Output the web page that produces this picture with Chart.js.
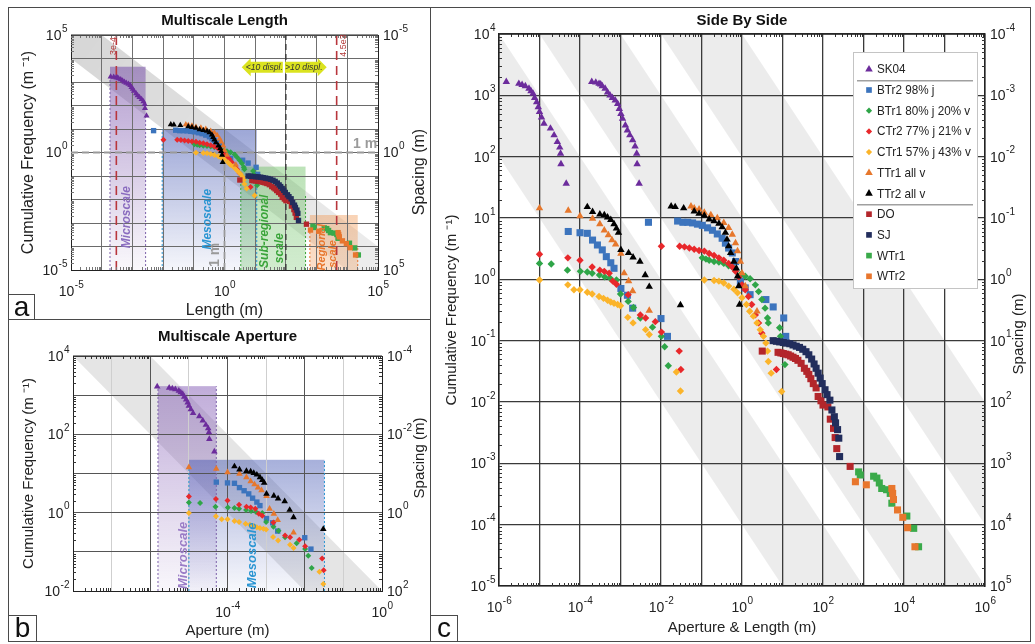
<!DOCTYPE html>
<html>
<head>
<meta charset="utf-8">
<title>Multiscale fracture frequency</title>
<script src="https://cdn.jsdelivr.net/npm/chart.js@4.4.1/dist/chart.umd.min.js"></script>
<style>
  html, body { margin: 0; padding: 0; background: #fff; }
  #figure { position: relative; width: 1035px; height: 644px; overflow: hidden; font-family: Arial, "Liberation Sans", sans-serif; }
  #figure canvas { position: absolute; }
  .rule { position: absolute; background: #4a4a4a; }
  .tag { position: absolute; box-sizing: border-box; border: 1px solid #4a4a4a; background: #fff; font-size: 28px; line-height: 24px; text-align: center; color: #111; }
</style>
</head>
<body>
<div id="figure">
  <canvas id="chartA" width="430" height="320" style="left:0;top:0"></canvas>
  <canvas id="chartB" width="430" height="324" style="left:0;top:320px"></canvas>
  <canvas id="chartC" width="605" height="644" style="left:430px;top:0"></canvas>

  <div class="rule" style="left:8px;top:7px;width:1023px;height:1px"></div>
  <div class="rule" style="left:8px;top:641px;width:1023px;height:1px"></div>
  <div class="rule" style="left:8px;top:7px;width:1px;height:635px"></div>
  <div class="rule" style="left:1030px;top:7px;width:1px;height:635px"></div>
  <div class="rule" style="left:430px;top:7px;width:1px;height:635px"></div>
  <div class="rule" style="left:8px;top:319px;width:422px;height:1px"></div>

  <div class="tag" style="left:8px;top:294px;width:27px;height:26px">a</div>
  <div class="tag" style="left:8px;top:615px;width:29px;height:27px">b</div>
  <div class="tag" style="left:430px;top:615px;width:28px;height:27px">c</div>
</div>

<script>
const FONT = 'Arial, "Liberation Sans", sans-serif';
Chart.defaults.font.family = FONT;
Chart.defaults.color = '#222';

// ---- values, stored as log10 ----
// x = aperture or length (m), y = cumulative frequency (1/m)
const sk04ApX = [-5.82, -5.51, -5.43, -5.35, -5.26, -5.21, -5.16, -5.12, -5.07, -5.03, -5.00, -4.95, -4.89, -4.73, -4.64, -4.56, -4.50, -4.48, -4.47, -4.34];
const sk04ApY = [3.22, 3.19, 3.17, 3.15, 3.11, 3.07, 3.03, 2.96, 2.89, 2.81, 2.73, 2.64, 2.54, 2.46, 2.35, 2.24, 2.15, 2.05, 1.88, 1.56];
const sk04LenX = [-3.71, -3.61, -3.53, -3.49, -3.45, -3.38, -3.32, -3.26, -3.20, -3.13, -3.07, -3.03, -2.99, -2.95, -2.88, -2.83, -2.77, -2.70, -2.64, -2.60, -2.59, -2.54];
const sk04LenY = [3.22, 3.21, 3.19, 3.18, 3.15, 3.11, 3.05, 3.00, 2.96, 2.92, 2.86, 2.78, 2.70, 2.62, 2.51, 2.43, 2.35, 2.27, 2.17, 2.05, 1.88, 1.56];

const btr2ApX = [-4.29, -4.00, -3.82, -3.69, -3.57, -3.45, -3.35, -3.24, -3.16, -2.99, -2.83, -2.70, -2.00, -1.84];
const btr2ApY = [0.78, 0.76, 0.75, 0.64, 0.56, 0.48, 0.37, 0.27, 0.18, -0.15, -0.26, -0.47, -0.64, -0.93];
const btr2LenX = [-2.31, -1.59, -1.46, -1.34, -1.22, -1.10, -0.98, -0.85, -0.73, -0.61, -0.49, -0.41, -0.33, -0.24, -0.16, -0.04, 0.08, 0.20, 0.59, 0.77, 1.03, 1.08];
const btr2LenY = [0.93, 0.95, 0.93, 0.93, 0.92, 0.90, 0.88, 0.84, 0.80, 0.74, 0.67, 0.59, 0.51, 0.43, 0.29, -0.03, -0.14, -0.25, -0.33, -0.45, -0.63, -0.93];

const btr1ApX = [-5.00, -4.71, -4.31, -3.99, -3.82, -3.70, -3.52, -3.39, -3.26, -3.10, -3.00, -2.81, -2.68, -2.51, -2.21, -1.99, -1.91, -1.82];
const btr1ApY = [0.26, 0.25, 0.15, 0.13, 0.12, 0.10, 0.07, 0.04, 0.02, -0.01, -0.24, -0.36, -0.46, -0.63, -0.78, -0.93, -1.10, -1.41];
const btr1LenX = [-0.98, -0.89, -0.81, -0.69, -0.57, -0.45, -0.33, -0.20, -0.04, 0.08, 0.20, 0.33, 0.41, 0.49, 0.57, 0.63, 0.65, 0.93, 0.95, 1.06];
const btr1LenY = [0.35, 0.33, 0.31, 0.29, 0.28, 0.26, 0.22, 0.18, 0.08, 0.05, 0.01, -0.09, -0.20, -0.33, -0.47, -0.63, -0.71, -0.79, -0.93, -1.39];

const ctr2ApX = [-5.00, -4.30, -4.00, -3.70, -3.51, -3.40, -3.28, -3.19, -3.10, -2.81, -2.51, -2.38, -2.14, -1.99, -1.55, -1.51];
const ctr2ApY = [0.41, 0.35, 0.31, 0.20, 0.15, 0.13, 0.10, -0.03, -0.08, -0.25, -0.58, -0.63, -0.69, -0.86, -1.17, -1.47];
const ctr2LenX = [-1.99, -1.54, -1.42, -1.30, -1.18, -1.06, -0.93, -0.81, -0.69, -0.57, -0.45, -0.33, -0.24, -0.16, -0.08, 0.00, 0.08, 0.16, 0.24, 0.33, 0.41, 0.49, 0.85];
const ctr2LenY = [0.54, 0.54, 0.53, 0.51, 0.49, 0.47, 0.46, 0.42, 0.39, 0.35, 0.31, 0.26, 0.20, 0.13, 0.04, -0.09, -0.17, -0.28, -0.41, -0.58, -0.71, -0.88, -1.47];

const ctr1ApX = [-5.00, -4.30, -4.15, -4.00, -3.82, -3.70, -3.53, -3.42, -3.32, -3.24, -3.16, -3.07, -3.00, -2.82, -2.69, -2.38, -2.29, -1.62, -1.52];
const ctr1ApY = [-0.01, -0.09, -0.17, -0.17, -0.21, -0.24, -0.28, -0.31, -0.34, -0.37, -0.39, -0.41, -0.43, -0.62, -0.71, -0.82, -0.90, -1.51, -1.82];
const ctr1LenX = [-0.93, -0.69, -0.57, -0.45, -0.33, -0.20, -0.11, 0.00, 0.11, 0.19, 0.28, 0.37, 0.45, 0.53, 0.59, 0.63, 0.65, 0.72, 0.98];
const ctr1LenY = [-0.01, -0.02, -0.03, -0.06, -0.11, -0.16, -0.22, -0.30, -0.41, -0.52, -0.60, -0.71, -0.82, -0.93, -1.04, -1.17, -1.34, -1.53, -1.83];

const ttr1ApX = [-5.00, -4.29, -4.00, -3.69, -3.51, -3.40, -3.30, -3.21, -3.12, -2.99, -2.91, -2.80, -2.70, -2.29];
const ttr1ApY = [1.16, 1.12, 1.03, 0.99, 0.90, 0.80, 0.72, 0.64, 0.57, 0.42, 0.10, -0.03, -0.19, -0.51];
const ttr1LenX = [-1.26, -1.18, -1.06, -0.93, -0.77, -0.61, -0.45, -0.33, -0.24, -0.16, -0.11, -0.04, 0.00, 0.08, 0.37];
const ttr1LenY = [1.19, 1.16, 1.14, 1.09, 1.05, 1.00, 0.92, 0.84, 0.73, 0.59, 0.46, 0.29, 0.10, -0.11, -0.52];

const ttr2ApX = [-3.82, -3.69, -3.51, -3.40, -3.32, -3.24, -3.16, -3.10, -3.05, -2.99, -2.80, -2.69, -2.52, -2.39, -2.29, -1.52];
const ttr2ApY = [1.18, 1.10, 1.06, 1.05, 1.01, 0.97, 0.90, 0.83, 0.76, 0.48, 0.43, 0.36, 0.29, 0.07, -0.12, -0.42];
const ttr2LenX = [-1.75, -1.65, -1.44, -1.18, -1.06, -0.93, -0.81, -0.69, -0.57, -0.49, -0.41, -0.37, -0.33, -0.28, -0.20, -0.14, -0.11, -0.08, -0.06];
const ttr2LenY = [1.19, 1.18, 1.16, 1.11, 1.07, 1.04, 0.98, 0.95, 0.91, 0.85, 0.76, 0.65, 0.54, 0.43, 0.29, 0.18, 0.05, -0.11, -0.41];

const doLenX = [0.50, 0.89, 0.96, 1.02, 1.08, 1.14, 1.20, 1.26, 1.32, 1.38, 1.46, 1.54, 1.60, 1.65, 1.70, 1.76, 1.83, 1.88, 1.95, 2.00, 2.12, 2.18, 2.26, 2.30, 2.34, 2.67];
const doLenY = [-1.17, -1.19, -1.20, -1.21, -1.22, -1.23, -1.25, -1.27, -1.29, -1.32, -1.37, -1.45, -1.50, -1.55, -1.62, -1.70, -1.77, -1.91, -1.98, -2.05, -2.08, -2.28, -2.43, -2.58, -2.76, -3.05];
const sjLenX = [0.77, 0.85, 0.93, 1.02, 1.10, 1.18, 1.26, 1.34, 1.42, 1.50, 1.58, 1.65, 1.72, 1.78, 1.83, 1.88, 1.93, 1.98, 2.05, 2.10, 2.17, 2.22, 2.28, 2.31, 2.36, 2.39, 2.41];
const sjLenY = [-1.00, -1.01, -1.02, -1.03, -1.04, -1.05, -1.07, -1.09, -1.11, -1.14, -1.18, -1.23, -1.30, -1.38, -1.45, -1.53, -1.61, -1.70, -1.80, -1.88, -1.97, -2.13, -2.24, -2.34, -2.45, -2.59, -2.89];
const wtr1LenX = [2.88, 2.92, 3.25, 3.33, 3.39, 3.45, 3.57, 3.66, 3.70, 4.07, 4.24, 4.36];
const wtr1LenY = [-3.14, -3.19, -3.21, -3.24, -3.32, -3.41, -3.43, -3.49, -3.65, -3.86, -4.06, -4.36];
const wtr2LenX = [2.80, 3.07, 3.70, 3.72, 3.74, 3.84, 3.97, 4.09, 4.27];
const wtr2LenY = [-3.30, -3.35, -3.41, -3.49, -3.59, -3.76, -3.88, -4.05, -4.36];

// ---- annotation values (log10 units) ----
// grey bands: frequency * size between 10^c1 and 10^c2
const bandsA = [[-1, 1]];
const bandsB = [[-4, -2]];
const bandsC = [[-4, -2], [-1, 1], [2, 4]];
// scale boxes: [x from, x to, y top]
const boxesA = [[-3.73, -2.57, 3.65], [-2.03, 1.05, 0.99], [0.53, 2.64, -0.60], [2.78, 4.34, -2.66]];
const boxesB = [[-5.80, -4.29, 3.23], [-5.00, -1.49, 1.35]];
// dotted box edges: [x, y top]
const edgesA = [[-3.73, 3.20], [-2.57, 1.60], [-2.03, 0.99], [1.05, -0.55], [0.53, -1.10], [2.64, -1.85], [2.78, -3.20], [4.34, -4.00]];
const edgesB = [[-5.80, 3.23], [-4.29, 3.23], [-5.00, 1.20], [-1.49, 1.35]];
const cutoffsA = [3e-4, 4.5e3];   // resolution limits (m)
const displSplitA = 1e2;           // <10 / >10 displacement split (m)
const oneMetre = 1;

const series = [
  {label: 'SK04', color: '#6c2c9c', shape: 'triangle', ap: [sk04ApX, sk04ApY], len: [sk04LenX, sk04LenY]},
  {label: 'BTr2 98% j', color: '#3c74bd', shape: 'rect', ap: [btr2ApX, btr2ApY], len: [btr2LenX, btr2LenY]},
  {label: 'BTr1 80% j 20% v', color: '#2fa548', shape: 'rectRot', ap: [btr1ApX, btr1ApY], len: [btr1LenX, btr1LenY]},
  {label: 'CTr2 77% j 21% v', color: '#e8282b', shape: 'rectRot', ap: [ctr2ApX, ctr2ApY], len: [ctr2LenX, ctr2LenY]},
  {label: 'CTr1 57% j 43% v', color: '#fbb42a', shape: 'rectRot', ap: [ctr1ApX, ctr1ApY], len: [ctr1LenX, ctr1LenY]},
  {label: 'TTr1 all v', color: '#e6772c', shape: 'triangle', ap: [ttr1ApX, ttr1ApY], len: [ttr1LenX, ttr1LenY]},
  {label: 'TTr2 all v', color: '#000000', shape: 'triangle', ap: [ttr2ApX, ttr2ApY], len: [ttr2LenX, ttr2LenY]},
  {label: 'DO', color: '#b3262b', shape: 'rect', len: [doLenX, doLenY]},
  {label: 'SJ', color: '#222d5c', shape: 'rect', len: [sjLenX, sjLenY]},
  {label: 'WTr1', color: '#3aaa4a', shape: 'rect', len: [wtr1LenX, wtr1LenY]},
  {label: 'WTr2', color: '#e8762d', shape: 'rect', len: [wtr2LenX, wtr2LenY]}
];
const legendOrder = [0, 'sep', 1, 2, 3, 4, 5, 6, 'sep', 7, 8, 9, 10];

const dec = e => Number('1e' + e);
const decadeTicks = (lo, hi) => { const t = []; for (let e = lo; e <= hi; e++) t.push({value: dec(e)}); return t; };
const range = (lo, hi) => { const t = []; for (let e = lo; e <= hi; e++) t.push(e); return t; };

const purple = '#7e62aa', blue = '#2a95d2', green = '#3aa43a', orange = '#e8772e';

const panels = {
  chartA: {
    x: [-5, 5], y: [-5, 5], area: {top: 35, left: 71, right: 52, bottom: 50},
    sources: ['len'], radius: {triangle: 3.5, rect: 3.8, rectRot: 3.0},
    title: 'Multiscale Length', titleY: 21, axisFont: 16,
    xTitle: 'Length (m)', xTitlePad: 0, yTitlePad: 19, rightTitle: [420, 172],
    gridX: () => '#707070', gridY: () => '#6a6a6a', gridWidth: 1, frame: 1,
    bands: bandsA, bandColor: ['rgba(0,0,0,0.16)', 'rgba(0,0,0,0.07)'],
    boxes: boxesA,
    boxColors: [['rgba(120,80,170,0.55)', 'rgba(120,80,170,0.04)'], ['rgba(60,80,175,0.50)', 'rgba(60,80,175,0.05)'],
                ['rgba(90,185,80,0.40)', 'rgba(90,185,80,0.28)'], ['rgba(240,150,80,0.42)', 'rgba(240,150,80,0.30)']],
    edges: edgesA, edgeColors: [purple, purple, blue, blue, green, green, orange, orange],
    vLines: [
      {x: Math.log10(cutoffsA[0]), color: '#b8363c', dash: [9, 6], width: 1.6},
      {x: Math.log10(cutoffsA[1]), color: '#b8363c', dash: [9, 6], width: 1.6},
      {x: Math.log10(displSplitA), color: '#333', dash: [6, 4], width: 1.3},
      {x: Math.log10(oneMetre), to: Math.log10(oneMetre), color: '#9a9a9a', dash: [7, 4], width: 1.8}
    ],
    hLines: [{y: Math.log10(oneMetre), color: '#9a9a9a', dash: [7, 4], width: 1.8}],
    texts: [
      {t: 'Microscale', x: -3.18, y: -2.75, rot: true, color: '#8a6cbf', font: 'italic bold 12px'},
      {t: 'Mesoscale', x: -0.54, y: -2.84, rot: true, color: blue, font: 'italic bold 12px'},
      {t: '1 m', x: -0.30, y: -4.36, rot: true, color: '#9a9a9a', font: 'bold 14px'},
      {t: 'Sub-regional', x: 1.32, y: -3.35, rot: true, color: green, font: 'italic bold 12px'},
      {t: 'scale', x: 1.81, y: -4.07, rot: true, color: green, font: 'italic bold 12px'},
      {t: 'Regional', x: 3.18, y: -4.03, rot: true, color: orange, font: 'italic bold 11px'},
      {t: 'scale', x: 3.53, y: -4.32, rot: true, color: orange, font: 'italic bold 11px'},
      {t: '1 m', x: 4.97, y: 0.36, color: '#9a9a9a', font: 'bold 14px', align: 'right'},
      {t: '3e-4', x: -3.60, y: 4.53, rot: true, color: '#b23a3a', font: '9px'},
      {t: '4.5e3', x: 3.88, y: 4.55, rot: true, color: '#b23a3a', font: '9px'}
    ],
    arrows: [{head: 0.56, tail: 1.90, y: 3.63, t: '<10 displ.'}, {head: 3.33, tail: 1.97, y: 3.63, t: '>10 displ.'}],
    xLabels: [-5, 0, 5], yLabels: [5, 0, -5], y2Labels: [-5, 0, 5], minorColor: '#777'
  },
  chartB: {
    x: [-8, 0], y: [-2, 4], area: {top: 36, left: 73, right: 48, bottom: 53},
    sources: ['ap'], radius: {triangle: 3.8, rect: 3.8, rectRot: 3.0},
    title: 'Multiscale Aperture', titleY: 17, axisFont: 15,
    xTitle: 'Aperture (m)', xTitlePad: 4, yTitlePad: 20, rightTitle: [420, 138],
    gridX: v => (Math.round(Math.log10(v)) % 2 === 0 ? '#555' : '#cfcfcf'), gridY: () => '#555', gridWidth: 1, frame: 1,
    bands: bandsB, bandColor: 'rgba(0,0,0,0.10)',
    boxes: boxesB,
    boxColors: [['rgba(130,90,180,0.50)', 'rgba(130,90,180,0.05)'], ['rgba(60,80,175,0.45)', 'rgba(60,80,175,0.04)']],
    edges: edgesB, edgeColors: [purple, purple, blue, blue],
    vLines: [], hLines: [],
    texts: [
      {t: 'Microscale', x: -5.15, y: -1.09, rot: true, color: '#9a7cc6', font: 'italic bold 13px'},
      {t: 'Mesoscale', x: -3.35, y: -1.09, rot: true, color: blue, font: 'italic bold 13px'}
    ],
    arrows: [],
    xLabels: [-4, 0], yLabels: [4, 2, 0, -2], y2Labels: [-4, -2, 0, 2], minorColor: '#333'
  },
  chartC: {
    x: [-6, 6], y: [-5, 4], area: {top: 34, left: 69, right: 50, bottom: 58},
    sources: ['ap', 'len'], radius: {triangle: 4.3, rect: 5.0, rectRot: 3.7},
    title: 'Side By Side', titleY: 21, axisFont: 15,
    xTitle: 'Aperture & Length (m)', xTitlePad: 7, yTitlePad: 13, rightTitle: [589, 334],
    gridX: () => '#3a3a3a', gridY: () => '#3a3a3a', gridWidth: 1.3, frame: 1.5,
    bands: bandsC, bandColor: 'rgba(0,0,0,0.075)',
    boxes: [], boxColors: [], edges: [], edgeColors: [], vLines: [], hLines: [], texts: [], arrows: [],
    xLabels: [-6, -4, -2, 0, 2, 4, 6], yLabels: range(-5, 4), y2Labels: range(-4, 5), minorColor: '#333',
    legend: true
  }
};

function drawPow(ctx, e, x, y, align, size) {
  const base = '10', sup = String(e);
  const big = size + 'px ' + FONT, small = Math.round(size * 0.72) + 'px ' + FONT;
  ctx.font = big; const wb = ctx.measureText(base).width;
  ctx.font = small; const ws = ctx.measureText(sup).width;
  let x0 = x;
  if (align === 'center') x0 = x - (wb + ws) / 2;
  else if (align === 'right') x0 = x - wb - ws;
  ctx.textAlign = 'left';
  ctx.textBaseline = 'middle';
  ctx.font = big; ctx.fillText(base, x0, y);
  ctx.font = small; ctx.fillText(sup, x0 + wb + 0.5, y - size * 0.5);
}

function minorTicks(ctx, scale, a, horizontal, len) {
  const lo = Math.floor(Math.log10(scale.min)), hi = Math.ceil(Math.log10(scale.max));
  ctx.beginPath();
  for (let e = lo; e < hi; e++) {
    for (let k = 2; k <= 9; k++) {
      const v = k * dec(e);
      if (v <= scale.min || v >= scale.max) continue;
      const p = Math.round(scale.getPixelForValue(v)) + 0.5;
      if (horizontal) {
        ctx.moveTo(p, a.bottom); ctx.lineTo(p, a.bottom - len);
        ctx.moveTo(p, a.top); ctx.lineTo(p, a.top + len);
      } else {
        ctx.moveTo(a.left, p); ctx.lineTo(a.left + len, p);
        ctx.moveTo(a.right, p); ctx.lineTo(a.right - len, p);
      }
    }
  }
  ctx.stroke();
}

const decor = {
  id: 'decor',
  beforeDraw(chart) {
    const p = panels[chart.canvas.id];
    const {ctx, chartArea: a} = chart;
    const X = v => chart.scales.x.getPixelForValue(10 ** v);
    const Y = v => chart.scales.y.getPixelForValue(10 ** v);
    ctx.save();
    ctx.beginPath();
    ctx.rect(a.left, a.top, a.right - a.left, a.bottom - a.top);
    ctx.clip();
    let fill = p.bandColor;
    if (Array.isArray(fill)) {
      const g = ctx.createLinearGradient(a.left, a.top, a.right, a.bottom);
      g.addColorStop(0, fill[0]); g.addColorStop(1, fill[1]);
      fill = g;
    }
    const [x0, x1] = p.x;
    p.bands.forEach(([c1, c2]) => {
      ctx.beginPath();
      ctx.moveTo(X(x0), Y(c1 - x0));
      ctx.lineTo(X(x1), Y(c1 - x1));
      ctx.lineTo(X(x1), Y(c2 - x1));
      ctx.lineTo(X(x0), Y(c2 - x0));
      ctx.closePath();
      ctx.fillStyle = fill;
      ctx.fill();
    });
    p.boxes.forEach((b, i) => {
      const top = Y(b[2]);
      const g = ctx.createLinearGradient(0, top, 0, a.bottom);
      g.addColorStop(0, p.boxColors[i][0]);
      g.addColorStop(1, p.boxColors[i][1]);
      ctx.fillStyle = g;
      ctx.fillRect(X(b[0]), top, X(b[1]) - X(b[0]), a.bottom - top);
    });
    ctx.restore();
  },
  beforeDatasetsDraw(chart) {
    const p = panels[chart.canvas.id];
    const {ctx, chartArea: a} = chart;
    const X = v => chart.scales.x.getPixelForValue(10 ** v);
    const Y = v => chart.scales.y.getPixelForValue(10 ** v);
    ctx.save();
    // dotted box edges
    ctx.lineWidth = 1;
    ctx.setLineDash([2, 2]);
    p.edges.forEach((e, i) => {
      ctx.strokeStyle = p.edgeColors[i];
      ctx.beginPath();
      ctx.moveTo(X(e[0]), a.bottom);
      ctx.lineTo(X(e[0]), Y(e[1]));
      ctx.stroke();
    });
    // reference lines
    p.vLines.forEach(l => {
      ctx.strokeStyle = l.color; ctx.lineWidth = l.width; ctx.setLineDash(l.dash);
      ctx.beginPath();
      ctx.moveTo(X(l.x), a.bottom);
      ctx.lineTo(X(l.x), l.to === undefined ? a.top : Y(l.to));
      ctx.stroke();
    });
    p.hLines.forEach(l => {
      ctx.strokeStyle = l.color; ctx.lineWidth = l.width; ctx.setLineDash(l.dash);
      ctx.beginPath();
      ctx.moveTo(a.left, Y(l.y));
      ctx.lineTo(a.right, Y(l.y));
      ctx.stroke();
    });
    ctx.setLineDash([]);
    // minor ticks and top frame
    ctx.strokeStyle = p.minorColor;
    ctx.lineWidth = 1;
    minorTicks(ctx, chart.scales.x, a, true, 3);
    minorTicks(ctx, chart.scales.y, a, false, 3);
    ctx.strokeStyle = '#222';
    ctx.lineWidth = p.frame;
    ctx.beginPath();
    ctx.moveTo(a.left, a.top);
    ctx.lineTo(a.right, a.top);
    ctx.stroke();
    ctx.restore();
  },
  afterDraw(chart) {
    const p = panels[chart.canvas.id];
    const {ctx, chartArea: a} = chart;
    const sx = chart.scales.x, sy = chart.scales.y, s2 = chart.scales.y2;
    const X = v => sx.getPixelForValue(10 ** v);
    const Y = v => sy.getPixelForValue(10 ** v);
    ctx.save();

    // yellow displacement arrows
    p.arrows.forEach(ar => {
      const xh = X(ar.head), xt = X(ar.tail), yc = Y(ar.y);
      const dir = Math.sign(xh - xt), hl = 9, bh = 11, hh = 18;
      ctx.fillStyle = '#dbe31f';
      ctx.beginPath();
      ctx.moveTo(xt, yc - bh / 2);
      ctx.lineTo(xh - dir * hl, yc - bh / 2);
      ctx.lineTo(xh - dir * hl, yc - hh / 2);
      ctx.lineTo(xh, yc);
      ctx.lineTo(xh - dir * hl, yc + hh / 2);
      ctx.lineTo(xh - dir * hl, yc + bh / 2);
      ctx.lineTo(xt, yc + bh / 2);
      ctx.closePath();
      ctx.fill();
      ctx.fillStyle = '#333';
      ctx.font = 'italic 9px ' + FONT;
      ctx.textAlign = 'center';
      ctx.textBaseline = 'middle';
      ctx.fillText(ar.t, (xh + xt) / 2 - dir * 2, yc + 0.5, Math.abs(xh - xt) - 4);
    });

    // annotation texts
    p.texts.forEach(t => {
      ctx.save();
      ctx.translate(X(t.x), Y(t.y));
      if (t.rot) ctx.rotate(-Math.PI / 2);
      ctx.font = t.font + ' ' + FONT;
      ctx.fillStyle = t.color;
      ctx.textAlign = t.align || 'center';
      ctx.textBaseline = 'middle';
      ctx.fillText(t.t, 0, 0);
      ctx.restore();
    });

    // tick labels
    ctx.fillStyle = '#222';
    p.xLabels.forEach(e => drawPow(ctx, e, sx.getPixelForValue(dec(e)), a.bottom + 22, 'center', 14));
    p.yLabels.forEach(e => drawPow(ctx, e, a.left - 4, sy.getPixelForValue(dec(e)) + 1, 'right', 14));
    p.y2Labels.forEach(e => drawPow(ctx, e, a.right + 5, s2.getPixelForValue(dec(e)) + 1, 'left', 14));

    // chart title
    ctx.font = 'bold 15px ' + FONT;
    ctx.textAlign = 'center';
    ctx.textBaseline = 'middle';
    ctx.fillStyle = '#111';
    ctx.fillText(p.title, (a.left + a.right) / 2, p.titleY);

    // right axis title
    ctx.save();
    ctx.translate(p.rightTitle[0], p.rightTitle[1]);
    ctx.rotate(-Math.PI / 2);
    ctx.font = p.axisFont + 'px ' + FONT;
    ctx.fillStyle = '#222';
    ctx.fillText('Spacing (m)', 0, 0);
    ctx.restore();

    // legend with group separators
    if (p.legend) {
      const L = {left: a.right - 132, top: a.top + 18, w: 124, h: 236, first: 17.3, row: 20.7};
      const legendRadius = {triangle: 4.4, rect: 4.0, rectRot: 3.1};
      ctx.fillStyle = '#fff';
      ctx.fillRect(L.left, L.top, L.w, L.h);
      ctx.strokeStyle = '#c4c4c4';
      ctx.lineWidth = 1;
      ctx.strokeRect(L.left + 0.5, L.top + 0.5, L.w, L.h);
      let row = 0;
      legendOrder.forEach(item => {
        if (item === 'sep') {
          const y = L.top + L.first + (row - 0.5) * L.row + 1;
          ctx.strokeStyle = '#a0a0a0';
          ctx.lineWidth = 1.5;
          ctx.beginPath();
          ctx.moveTo(L.left + 4, y);
          ctx.lineTo(L.left + L.w - 4, y);
          ctx.stroke();
          return;
        }
        const s = series[item];
        const y = L.top + L.first + row * L.row;
        ctx.fillStyle = s.color;
        Chart.helpers.drawPoint(ctx, {pointStyle: s.shape, radius: legendRadius[s.shape], rotation: 0, borderWidth: 0}, L.left + 16, y);
        ctx.save();
        ctx.translate(L.left + 24, y + 0.5);
        ctx.scale(0.9, 1);
        ctx.font = '13px ' + FONT;
        ctx.fillStyle = '#222';
        ctx.textAlign = 'left';
        ctx.textBaseline = 'middle';
        ctx.fillText(s.label, 0, 0);
        ctx.restore();
        row++;
      });
    }
    ctx.restore();
  }
};

function buildChart(id) {
  const p = panels[id];
  const datasets = [];
  series.forEach((s, i) => {
    const pts = [];
    p.sources.forEach(src => {
      const pair = s[src];
      if (!pair) return;
      pair[0].forEach((lx, k) => pts.push({x: 10 ** lx, y: 10 ** pair[1][k]}));
    });
    if (!pts.length) return;
    datasets.push({
      label: s.label, data: pts, order: -i,
      pointStyle: s.shape, pointRadius: p.radius[s.shape],
      backgroundColor: s.color, borderColor: s.color, borderWidth: 0
    });
  });

  const frame = {display: true, color: '#222', width: p.frame};
  new Chart(document.getElementById(id), {
    type: 'scatter',
    data: {datasets},
    options: {
      responsive: false,
      animation: false,
      devicePixelRatio: 1,
      events: [],
      layout: {padding: {top: p.area.top, left: 0, right: 0, bottom: 0}},
      plugins: {legend: {display: false}, tooltip: {enabled: false}},
      scales: {
        x: {
          type: 'logarithmic', position: 'bottom', min: dec(p.x[0]), max: dec(p.x[1]),
          afterBuildTicks: s => { s.ticks = decadeTicks(p.x[0], p.x[1]); },
          afterFit: s => { s.height = p.area.bottom; },
          ticks: {display: false},
          grid: {color: c => p.gridX(c.tick ? c.tick.value : 1), lineWidth: p.gridWidth, drawTicks: false},
          border: frame,
          title: {display: true, text: p.xTitle, color: '#222', font: {size: p.axisFont}, padding: {top: 0, bottom: p.xTitlePad}}
        },
        y: {
          type: 'logarithmic', position: 'left', min: dec(p.y[0]), max: dec(p.y[1]),
          afterBuildTicks: s => { s.ticks = decadeTicks(p.y[0], p.y[1]); },
          afterFit: s => { s.width = p.area.left; },
          ticks: {display: false},
          grid: {color: c => p.gridY(c.tick ? c.tick.value : 1), lineWidth: p.gridWidth, drawTicks: false},
          border: frame,
          title: {display: true, text: 'Cumulative Frequency (m ⁻¹)', color: '#222', font: {size: p.axisFont}, padding: {top: p.yTitlePad, bottom: 0}}
        },
        y2: {
          type: 'logarithmic', position: 'right', reverse: true,
          min: dec(-p.y[1]), max: dec(-p.y[0]),
          afterBuildTicks: s => { s.ticks = decadeTicks(-p.y[1], -p.y[0]); },
          afterFit: s => { s.width = p.area.right; },
          ticks: {display: false},
          grid: {drawOnChartArea: false, drawTicks: false},
          border: frame
        }
      }
    },
    plugins: [decor]
  });
}

['chartA', 'chartB', 'chartC'].forEach(buildChart);
</script>
</body>
</html>
